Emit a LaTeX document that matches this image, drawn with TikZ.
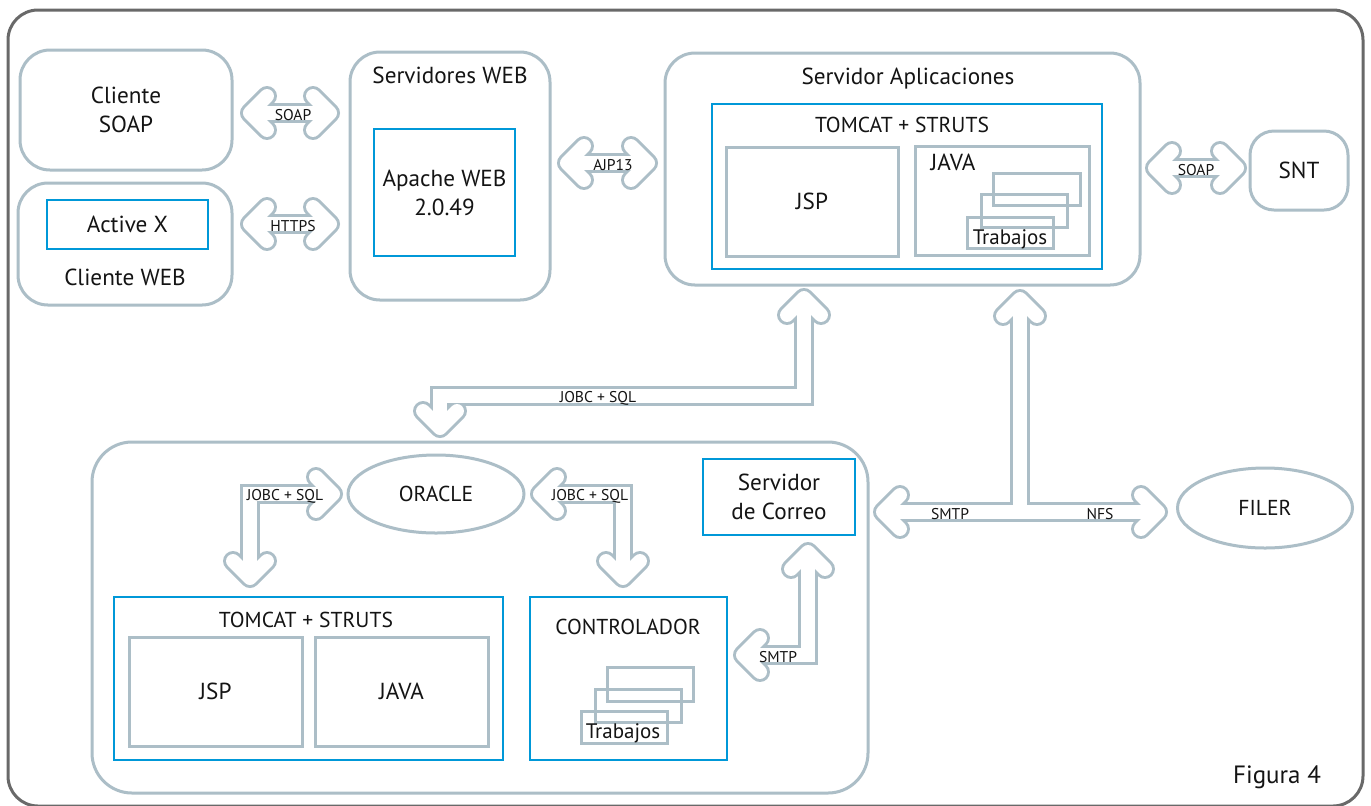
\documentclass[tikz,border=0pt]{standalone}
\usepackage{fontspec}
\setmainfont{PT Sans}
\usetikzlibrary{shapes.geometric,calc}
\definecolor{lg}{RGB}{172,190,199}
\definecolor{bl}{RGB}{0,152,216}
\definecolor{fr}{RGB}{105,105,105}
\definecolor{tx}{RGB}{20,20,20}
\newcommand\fbig{\fontsize{11.6}{14.5}\selectfont}
\newcommand\fcaps{\fontsize{10.8}{13}\selectfont}
\newcommand\fmidd{\fontsize{10.5}{11}\selectfont}
\newcommand\fsmall{\fontsize{7.8}{8.5}\selectfont}
\newcommand\ffig{\fontsize{12.5}{14}\selectfont}
\newcommand\hollow[2]{%
  \draw[hg] #1;
  \foreach \pp/\dd in {#2}{\pgfmathsetmacro\angA{\dd+135}\pgfmathsetmacro\angB{\dd-135}%
    \draw[hg,line cap=round] (\pp) -- ++(\angA:24) (\pp) -- ++(\angB:24);}
  \draw[hw] #1;
  \foreach \pp/\dd in {#2}{\pgfmathsetmacro\angA{\dd+135}\pgfmathsetmacro\angB{\dd-135}%
    \draw[hw,line cap=round] (\pp) -- ++(\angA:24) (\pp) -- ++(\angB:24);}
}
\begin{document}
\begin{tikzpicture}[x=0.5pt,y=-0.5pt,
  gbox/.style={draw=lg,line width=1.5pt,rounded corners=15pt,inner sep=0pt,align=center,font=\fbig,text=tx},
  bbox/.style={draw=bl,line width=1.25pt,inner sep=0pt,align=center,font=\fbig,text=tx},
  sbox/.style={draw=lg,line width=1.5pt,inner sep=0pt,align=center,font=\fbig,text=tx},
  stk/.style={draw=lg,line width=1.5pt,inner sep=0pt},
  ell/.style={ellipse,draw=lg,line width=1.5pt,inner sep=0pt,font=\fcaps,text=tx},
  txt/.style={inner sep=0pt,font=\fbig,text=tx,align=center},
  ctxt/.style={inner sep=0pt,font=\fcaps,text=tx,align=center},
  tjob/.style={inner sep=0pt,font=\fmidd,text=tx},
  lab/.style={inner sep=0pt,font=\fsmall,text=tx},
  hg/.style={draw=lg,line width=10pt,line join=miter},
  hw/.style={draw=white,line width=7pt,line join=miter}]
\useasboundingbox (0,0) rectangle (1371,805);
\clip (0,0) rectangle (1371,805);
\fill[white] (0,0) rectangle (1371,805);
\draw[fr,line width=1.5pt,rounded corners=15pt] (8,10) rectangle (1363,806);

% top left clients
\node[gbox,minimum width=106pt,minimum height=60pt] (cs) at (126,110) {Cliente\\SOAP};
\node[gbox,minimum width=107pt,minimum height=61pt] (cw) at (125,244) {};
\node[bbox,minimum width=80.5pt,minimum height=24.5pt] (ax) at (127.5,224.5) {Active X};
\node[txt] (cwt) at (125,277) {Cliente WEB};

% web servers
\node[gbox,minimum width=100pt,minimum height=124pt] (sw) at (450,176) {};
\node[txt] (swt) at (450,75) {Servidores WEB};
\node[bbox,minimum width=70.5pt,minimum height=63.5pt] (ap) at (444.5,192.5) {Apache WEB\\2.0.49};

% application server
\node[gbox,minimum width=237.5pt,minimum height=116pt] (sa) at (902.5,169) {};
\node[txt] (sat) at (908,79) {Servidor Aplicaciones};
\node[bbox,minimum width=195pt,minimum height=82.5pt] (tc1) at (907,186.5) {};
\node[ctxt] (tc1t) at (902,125) {TOMCAT + STRUTS};
\node[sbox,minimum width=86pt,minimum height=54.5pt] (jsp1) at (812,201.5) {JSP};
\node[sbox,minimum width=87pt,minimum height=54.5pt] (java1) at (1002,200.5) {};
\node[txt] (java1t) at (953,162) {JAVA};
\node[stk,minimum width=43.5pt,minimum height=16pt] (s1a) at (1036.5,189) {};
\node[stk,minimum width=43pt,minimum height=16.5pt] (s1b) at (1024,210.5) {};
\node[stk,minimum width=43pt,minimum height=15.5pt] (s1c) at (1010,232.5) {};
\node[tjob] (tr1) at (1010,239) {Trabajos};

% SNT
\node[gbox,rounded corners=12pt,minimum width=49pt,minimum height=39.5pt] (snt) at (1299,170.5) {SNT};

% bottom group
\node[gbox,rounded corners=20pt,minimum width=388pt,minimum height=175.5pt] (bot) at (480,617.5) {};
\node[ell,minimum width=88pt,minimum height=39pt] (ora) at (436,494) {ORACLE};
\node[bbox,minimum width=76pt,minimum height=38pt] (corr) at (779,497) {Servidor\\de Correo};
\node[bbox,minimum width=194.5pt,minimum height=81.5pt] (tc2) at (308.5,678.5) {};
\node[ctxt] (tc2t) at (306,620) {TOMCAT + STRUTS};
\node[sbox,minimum width=86.5pt,minimum height=54.5pt] (jsp2) at (215.5,691.5) {JSP};
\node[sbox,minimum width=86.5pt,minimum height=54.5pt] (java2) at (401.5,691.5) {JAVA};
\node[bbox,minimum width=98.5pt,minimum height=81.5pt] (ctl) at (628.5,678.5) {};
\node[ctxt] (ctlt) at (628,627) {CONTROLADOR};
\node[stk,minimum width=43pt,minimum height=17pt] (s2a) at (650,684) {};
\node[stk,minimum width=43pt,minimum height=16.5pt] (s2b) at (638,705.5) {};
\node[stk,minimum width=43pt,minimum height=16pt] (s2c) at (624,727) {};
\node[tjob] (tr2) at (623,733) {Trabajos};

% FILER
\node[ell,minimum width=87.5pt,minimum height=40pt] (filer) at (1265,508) {FILER};

\node[txt,font=\ffig] (fig) at (1277,777) {Figura 4};

% arrow end points
\coordinate (a1) at (250,113); \coordinate (a2) at (330,113);
\coordinate (b1) at (250,224); \coordinate (b2) at (330,224);
\coordinate (c1) at (567,163); \coordinate (c2) at (648,163);
\coordinate (d1) at (1155,168); \coordinate (d2) at (1237,168);
\coordinate (e1) at (804,298); \coordinate (e2) at (440,428);
\coordinate (f1) at (1020,299); \coordinate (f2) at (883,512); \coordinate (f3) at (1158,512);
\coordinate (g1) at (333,494); \coordinate (g2) at (250,578);
\coordinate (h1) at (540,494); \coordinate (h2) at (623,578);
\coordinate (i1) at (808,552); \coordinate (i2) at (743,655);

\hollow{(a1) -- (a2)}{a1/180,a2/0}
\hollow{(b1) -- (b2)}{b1/180,b2/0}
\hollow{(c1) -- (c2)}{c1/180,c2/0}
\hollow{(d1) -- (d2)}{d1/180,d2/0}
\hollow{(e1) -- ++(0,98) -| (e2)}{e1/-90,e2/90}
\hollow{(f1) -- (f1|-f2) (f2) -- (f3)}{f1/-90,f2/180,f3/0}
\hollow{(g1) -| (g2)}{g1/0,g2/90}
\hollow{(h1) -| (h2)}{h1/180,h2/90}
\hollow{(i1) |- (i2)}{i1/-90,i2/180}

\node[lab] (la) at (293,115) {SOAP};
\node[lab] (lb) at (293,226) {HTTPS};
\node[lab] (lc) at (613,165) {AJP13};
\node[lab] (ld) at (1196,170) {SOAP};
\node[lab] (le) at (598,398) {JOBC + SQL};
\node[lab] (lf1) at (950,514) {SMTP};
\node[lab] (lf2) at (1100,514) {NFS};
\node[lab] (lg1) at (285,496) {JOBC + SQL};
\node[lab] (lh) at (590,496) {JOBC + SQL};
\node[lab] (li) at (778,657) {SMTP};
\end{tikzpicture}
\end{document}
